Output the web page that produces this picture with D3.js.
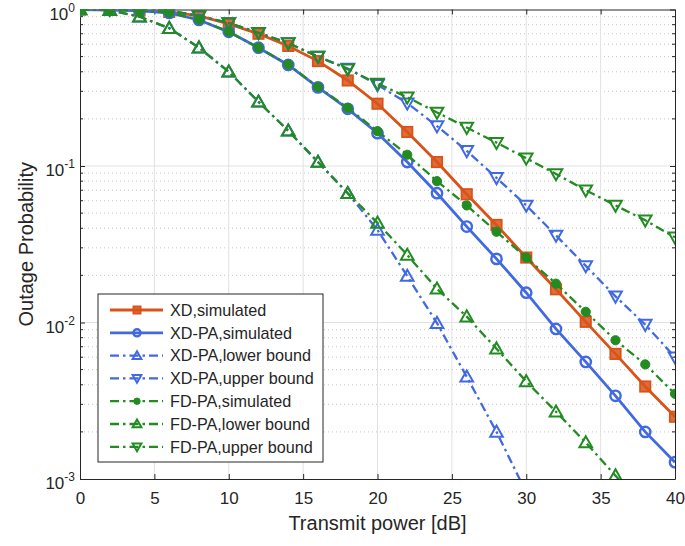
<!DOCTYPE html>
<html lang="en">
<head>
    <meta charset="UTF-8">
    <title>Outage Probability</title>
    <script src="https://d3js.org/d3.v7.min.js"></script>
    <style>
        body { margin: 0; background: #fff; }
        text {
            font-family: 'Liberation Sans', Arial, sans-serif;
            fill: #262626;
        }
    </style>
</head>
<body>

<script>
    const width  = 685;
    const height = 546;
    const margin = {left: 80, right: 10, top: 9.5, bottom: 67};

    // transmit power [dB]
    const power = [0, 2, 4, 6, 8, 10, 12, 14, 16, 18, 20, 22, 24, 26, 28, 30, 32, 34, 36, 38, 40];
    const xTicks = [0, 5, 10, 15, 20, 25, 30, 35, 40];
    const yTicks = [1e-3, 1e-2, 1e-1, 1];
    const yExp = ["-3", "-2", "-1", "0"];

    const xdSim     = [1, 0.995, 0.985, 0.965, 0.91, 0.81, 0.70, 0.585, 0.468, 0.352, 0.25, 0.165, 0.106, 0.066, 0.042, 0.026, 0.0163, 0.0101, 0.0063, 0.0039, 0.0025];
    const xdpaSim   = [1, 0.995, 0.985, 0.95, 0.857, 0.72, 0.57, 0.442, 0.318, 0.232, 0.162, 0.106, 0.067, 0.041, 0.0255, 0.0155, 0.0091, 0.0056, 0.0034, 0.002, 0.00128];
    const xdpaLower = [1, 0.99, 0.9, 0.76, 0.57, 0.40, 0.257, 0.168, 0.106, 0.067, 0.039, 0.0198, 0.0099, 0.0045, 0.0020, 0.00082, null, null, null, null, null];
    const xdpaUpper = [1, 1, 0.995, 0.98, 0.91, 0.82, 0.71, 0.61, 0.50, 0.42, 0.33, 0.252, 0.18, 0.125, 0.084, 0.056, 0.036, 0.023, 0.0147, 0.0097, 0.006];
    const fdpaSim   = [1, 0.995, 0.985, 0.955, 0.86, 0.72, 0.57, 0.445, 0.32, 0.235, 0.167, 0.118, 0.080, 0.056, 0.038, 0.026, 0.0177, 0.0117, 0.0077, 0.0054, 0.0035];
    const fdpaLower = [1, 0.99, 0.9, 0.76, 0.57, 0.40, 0.257, 0.168, 0.106, 0.067, 0.0433, 0.027, 0.0164, 0.0109, 0.0068, 0.0042, 0.00269, 0.00171, 0.00105, 0.00065, null];
    const fdpaUpper = [1, 1, 0.995, 0.985, 0.91, 0.82, 0.71, 0.61, 0.50, 0.415, 0.337, 0.275, 0.22, 0.176, 0.141, 0.112, 0.089, 0.070, 0.056, 0.045, 0.035];

    const orange = "#D95319", blue = "#4169E1", green = "#228B22";
    const dashDot = "9,4,2.5,4";

    const series = [
        {name: "XD,simulated",         values: xdSim,     color: orange, dash: null,    marker: "square"},
        {name: "XD-PA,simulated",      values: xdpaSim,   color: blue,   dash: null,    marker: "circle"},
        {name: "XD-PA,lower bound",    values: xdpaLower, color: blue,   dash: dashDot, marker: "up"},
        {name: "XD-PA,upper bound",    values: xdpaUpper, color: blue,   dash: dashDot, marker: "down"},
        {name: "FD-PA,simulated",      values: fdpaSim,   color: green,  dash: dashDot, marker: "dot"},
        {name: "FD-PA,lower bound",    values: fdpaLower, color: green,  dash: dashDot, marker: "up"},
        {name: "FD-PA,upper bound",    values: fdpaUpper, color: green,  dash: dashDot, marker: "down"}
    ];

    const x = d3.scaleLinear()
                .domain([0, 40])
                .range([margin.left, width - margin.right]);

    const y = d3.scaleLog()
                .domain([1e-3, 1])
                .range([height - margin.bottom, margin.top]);

    const svg = d3.select("body")
                  .append("svg").attr("width", width).attr("height", height);

    svg.append("defs").append("clipPath").attr("id", "clip")
       .append("rect")
       .attr("x", x(0)).attr("y", y(1))
       .attr("width", x(40) - x(0)).attr("height", y(1e-3) - y(1));

    // minor ticks 2..9 for each decade
    const minor = [];
    [1e-3, 1e-2, 1e-1].forEach(d => {
        for (let k = 2; k <= 9; k++) minor.push(d * k);
    });

    const grid = svg.append("g");

    grid.selectAll(".minor").data(minor).enter()
        .append("line")
        .attr("x1", x(0)).attr("x2", x(40))
        .attr("y1", d => y(d)).attr("y2", d => y(d))
        .attr("stroke", "#c8c8c8")
        .attr("stroke-width", 1)
        .attr("stroke-dasharray", "1,3");

    grid.selectAll(".xg").data(xTicks.slice(1, -1)).enter()
        .append("line")
        .attr("x1", d => x(d)).attr("x2", d => x(d))
        .attr("y1", y(1)).attr("y2", y(1e-3))
        .attr("stroke", "#e1e1e1")
        .attr("stroke-width", 1);

    grid.selectAll(".yg").data(yTicks.slice(1, -1)).enter()
        .append("line")
        .attr("x1", x(0)).attr("x2", x(40))
        .attr("y1", d => y(d)).attr("y2", d => y(d))
        .attr("stroke", "#e1e1e1")
        .attr("stroke-width", 1);

    // axes (MATLAB style: ticks inside, box)
    const xAxisB = d3.axisBottom(x).tickValues(xTicks).tickSizeInner(-5).tickSizeOuter(0).tickPadding(13);
    const xAxisT = d3.axisTop(x).tickValues(xTicks).tickSizeInner(-5).tickSizeOuter(0).tickFormat("");
    const yAxisL = d3.axisLeft(y).tickValues(yTicks).tickSizeInner(-5).tickSizeOuter(0).tickFormat("");
    const yAxisR = d3.axisRight(y).tickValues(yTicks).tickSizeInner(-5).tickSizeOuter(0).tickFormat("");

    function styleAxis(g) {
        g.select(".domain").attr("stroke", "#262626");
        g.selectAll(".tick line").attr("stroke", "#262626");
        g.selectAll("text").attr("fill", "#262626").attr("font-size", "17px")
         .attr("font-family", "'Liberation Sans', Arial, sans-serif");
    }

    svg.append("g").attr("transform", "translate(0," + y(1e-3) + ")").call(xAxisB).call(styleAxis);
    svg.append("g").attr("transform", "translate(0," + y(1) + ")").call(xAxisT).call(styleAxis);
    svg.append("g").attr("transform", "translate(" + x(0) + ",0)").call(yAxisL).call(styleAxis);
    svg.append("g").attr("transform", "translate(" + x(40) + ",0)").call(yAxisR).call(styleAxis);

    // minor y ticks on both sides
    svg.append("g").selectAll("line").data(minor).enter()
       .append("line")
       .attr("x1", x(0)).attr("x2", x(0) + 3)
       .attr("y1", d => y(d)).attr("y2", d => y(d))
       .attr("stroke", "#262626");
    svg.append("g").selectAll("line").data(minor).enter()
       .append("line")
       .attr("x1", x(40)).attr("x2", x(40) - 3)
       .attr("y1", d => y(d)).attr("y2", d => y(d))
       .attr("stroke", "#262626");

    // y tick labels as 10^n
    const yl = svg.append("g").selectAll("text").data(yTicks).enter()
       .append("text")
       .attr("x", x(0) - 5)
       .attr("y", d => y(d) + 10)
       .attr("text-anchor", "end")
       .attr("font-size", "17px");
    yl.append("tspan").text("10");
    yl.append("tspan").attr("dy", -8).attr("font-size", "12px").text((d, i) => yExp[i]);

    // axis titles
    svg.append("text")
       .attr("x", (x(0) + x(40)) / 2)
       .attr("y", 530)
       .attr("text-anchor", "middle")
       .attr("font-size", "20px")
       .text("Transmit power [dB]");

    svg.append("text")
       .attr("transform", "translate(33," + ((y(1) + y(1e-3)) / 2) + ") rotate(-90)")
       .attr("text-anchor", "middle")
       .attr("font-size", "20px")
       .text("Outage Probability");

    // markers
    function drawMarker(g, type, color, size) {
        const s = size;
        if (type === "square") {
            g.append("rect").attr("x", -s * 0.45).attr("y", -s * 0.45)
             .attr("width", s * 0.9).attr("height", s * 0.9)
             .attr("fill", color).attr("fill-opacity", 0.85)
             .attr("stroke", color).attr("stroke-width", 1.8);
        } else if (type === "circle") {
            g.append("circle").attr("r", s * 0.45)
             .attr("fill", "none").attr("stroke", color).attr("stroke-width", 2.4);
        } else if (type === "dot") {
            g.append("circle").attr("r", s * 0.4)
             .attr("fill", color).attr("stroke", color).attr("stroke-width", 1);
        } else {
            const h = s * 0.55;
            const pts = type === "up"
                ? [[0, -h], [h, h * 0.75], [-h, h * 0.75]]
                : [[0, h], [h, -h * 0.75], [-h, -h * 0.75]];
            g.append("path").attr("d", "M" + pts.join("L") + "Z")
             .attr("fill", "none").attr("stroke", color).attr("stroke-width", 2)
             .attr("stroke-linejoin", "miter");
        }
    }

    const plot = svg.append("g").attr("clip-path", "url(#clip)");

    const line = d3.line()
                   .defined(d => d[1] !== null)
                   .x(d => x(d[0]))
                   .y(d => y(d[1]));

    series.forEach(s => {
        const pts = power.map((p, i) => [p, s.values[i]]);
        plot.append("path").datum(pts)
            .attr("d", line)
            .attr("fill", "none")
            .attr("stroke", s.color)
            .attr("stroke-width", s.dash ? 2.3 : 2.8)
            .attr("stroke-dasharray", s.dash);

        pts.filter(d => d[1] !== null && d[1] >= 1e-3).forEach(d => {
            const g = plot.append("g").attr("transform", "translate(" + x(d[0]) + "," + y(d[1]) + ")");
            drawMarker(g, s.marker, s.color, 11.5);
        });
    });

    // legend
    const lg = svg.append("g").attr("transform", "translate(98,294)");
    lg.append("rect").attr("width", 225).attr("height", 168)
      .attr("fill", "#fff").attr("stroke", "#262626").attr("stroke-width", 1);

    series.forEach((s, i) => {
        const row = lg.append("g").attr("transform", "translate(0," + (16 + i * 22.8) + ")");
        row.append("line").attr("x1", 12).attr("x2", 65)
           .attr("stroke", s.color)
           .attr("stroke-width", s.dash ? 2.3 : 2.8)
           .attr("stroke-dasharray", s.dash);
        const m = row.append("g").attr("transform", "translate(39,0)");
        drawMarker(m, s.marker, s.color, 8);
        row.append("text").attr("x", 72).attr("y", 5.8)
           .attr("font-size", "16.2px")
           .text(s.name);
    });
</script>

</body>
</html>
